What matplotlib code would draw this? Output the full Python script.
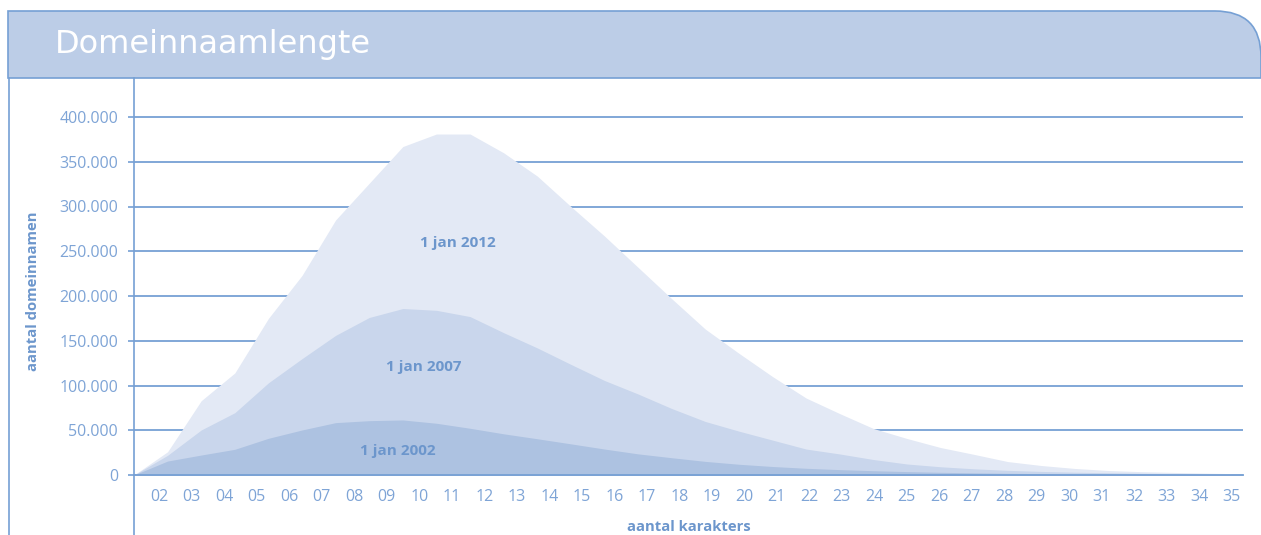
"""Domeinnaamlengte: area chart of .nl domain name lengths."""

import matplotlib

matplotlib.use("Agg")

import matplotlib.pyplot as plt
import numpy as np
from matplotlib.patches import PathPatch
from matplotlib.path import Path
from matplotlib.ticker import FuncFormatter

# data
length_labels = [f"{n:02d}" for n in range(2, 36)]
values_2012 = [0, 26000, 83000, 114000, 175000, 223000, 285000, 326000, 367000, 381000,
               381000, 360000, 334000, 300000, 267000, 232000, 197000, 163000, 136000, 110000,
               86000, 68600, 52000, 40800, 30700, 23000, 15000, 10600, 7300, 5000,
               3700, 2800, 2000, 1300]
values_2007 = [0, 22000, 50300, 69600, 103000, 130000, 156000, 176000, 186000, 184000,
               177000, 159000, 142000, 123600, 105600, 90500, 74300, 59800, 49000, 39000,
               29000, 23500, 17300, 12300, 9200, 6900, 5200, 4000, 3100, 2500,
               1900, 1500, 1100, 800]
values_2002 = [0, 15600, 22300, 28700, 41000, 50300, 58500, 60700, 61500, 57800,
               52200, 46000, 40500, 34800, 29000, 23600, 19300, 15200, 12000, 9500,
               7500, 6000, 4800, 3800, 3000, 2400, 1900, 1500, 1200, 1000,
               800, 600, 500, 400]
series_names = ["1 jan 2012", "1 jan 2007", "1 jan 2002"]
y_ticks = [0, 50000, 100000, 150000, 200000, 250000, 300000, 350000, 400000]

W, H = 1261, 535
LINE = "#76a0d4"
TEXT = "#7ea4d6"
LABEL = "#6c96cc"
FILLS = ["#e3e9f5", "#c9d6ec", "#adc2e1"]


def fx(px):
    return px / W


def fy(py):
    return (H - py) / H


fig = plt.figure(figsize=(W / 100, H / 100), dpi=100)
fig.patch.set_facecolor("white")

# title band with rounded top-right corner
r = 46
verts = [(8, 78), (8, 11), (W - r, 11), (W, 11), (W, 11 + r), (W, 78), (8, 78)]
codes = [Path.MOVETO, Path.LINETO, Path.LINETO, Path.CURVE3, Path.CURVE3, Path.LINETO, Path.CLOSEPOLY]
band = Path([(fx(x), fy(y)) for x, y in verts], codes)
fig.patches.append(PathPatch(band, transform=fig.transFigure, facecolor="#bccde7",
                             edgecolor=LINE, lw=1.2))
fig.text(fx(55), fy(44), "Domeinnaamlengte", color="white", fontsize=23,
         family="DejaVu Sans", va="center", ha="left")

# frame lines left of the plot
fig.add_artist(plt.Line2D([fx(8.5), fx(8.5)], [fy(78), fy(H)], color=LINE, lw=1.2,
                          transform=fig.transFigure))
fig.add_artist(plt.Line2D([fx(134), fx(134)], [fy(78), fy(H)], color=LINE, lw=1.2,
                          transform=fig.transFigure))

ax = fig.add_axes([fx(134), fy(475), fx(1243) - fx(134), fy(117) - fy(475)])
ax.set_facecolor("none")
x = np.arange(len(values_2012))
for vals, color in zip([values_2012, values_2007, values_2002], FILLS):
    ax.fill_between(x, 0, vals, color=color, lw=0, zorder=2)

ax.hlines(y_ticks, 0, len(x) - 1, color=LINE, lw=1.3, zorder=1, clip_on=False)
ax.axhline(0, color=LINE, lw=1.3, zorder=3, clip_on=False)
ax.set_xlim(0, len(x) - 1)
ax.set_ylim(0, 400000)

for spine in ax.spines.values():
    spine.set_visible(False)

ax.set_yticks(y_ticks)
ax.yaxis.set_major_formatter(FuncFormatter(lambda v, _: f"{int(v):,}".replace(",", ".")))
ax.tick_params(axis="y", length=4.5, width=1.2, color=LINE, pad=7, labelsize=11.5,
               labelcolor=TEXT)
ax.set_xticks(np.linspace(0.75, 32.67, len(length_labels)))
ax.set_xticklabels(length_labels)
ax.tick_params(axis="x", length=0, pad=10, labelsize=11.5, labelcolor=TEXT)
for lab in ax.get_xticklabels() + ax.get_yticklabels():
    lab.set_family("Open Sans")

label_pos = [(9.64, 259000), (8.63, 120700), (7.86, 26800)]
for name, (lx, ly) in zip(series_names, label_pos):
    ax.text(lx, ly, name, color=LABEL, fontsize=11, fontweight="bold",
            family="Open Sans", ha="center", va="center", zorder=4)

fig.text(fx(33), fy(291), "aantal domeinnamen", rotation=90, color=LABEL, fontsize=10.7,
         fontweight="bold", family="Open Sans", ha="center", va="center")
fig.text(fx(689), fy(527), "aantal karakters", color=LABEL, fontsize=10.7,
         fontweight="bold", family="Open Sans", ha="center", va="center")

fig.savefig("out.png", dpi=100)
